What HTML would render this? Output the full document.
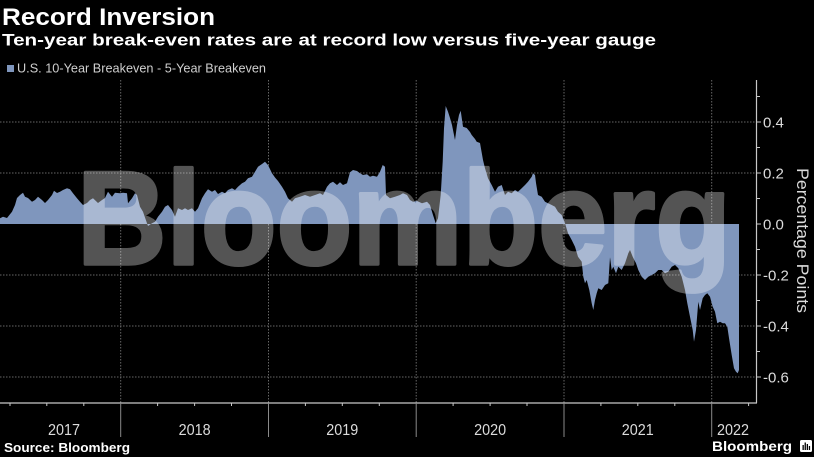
<!DOCTYPE html>
<html>
<head>
<meta charset="utf-8">
<style>
html,body{margin:0;padding:0;background:#000;}
svg{display:block;}
text{font-family:"Liberation Sans",sans-serif;}
</style>
</head>
<body>
<svg width="814" height="457" viewBox="0 0 814 457" xmlns="http://www.w3.org/2000/svg">
<rect x="0" y="0" width="814" height="457" fill="#000"/>

<!-- Titles -->
<text x="2" y="25" font-size="24" font-weight="bold" fill="#fff" textLength="213" lengthAdjust="spacingAndGlyphs">Record Inversion</text>
<text x="2" y="45.5" font-size="17" font-weight="bold" fill="#fff" textLength="654" lengthAdjust="spacingAndGlyphs">Ten-year break-even rates are at record low versus five-year gauge</text>

<!-- Legend -->
<rect x="7" y="65" width="7" height="7" fill="#7f96bd"/>
<text x="17" y="72.5" font-size="12.5" fill="#cfcfcf" textLength="249" lengthAdjust="spacingAndGlyphs">U.S. 10-Year Breakeven - 5-Year Breakeven</text>

<!-- Dotted gridlines -->
<g stroke="#666" stroke-width="1" stroke-dasharray="1.5,1.5">
  <line x1="0" y1="122" x2="756" y2="122"/>
  <line x1="0" y1="173" x2="756" y2="173"/>
  <line x1="0" y1="275" x2="756" y2="275"/>
  <line x1="0" y1="326" x2="756" y2="326"/>
  <line x1="0" y1="377" x2="756" y2="377"/>
  <line x1="120.7" y1="80" x2="120.7" y2="403"/>
  <line x1="268.5" y1="80" x2="268.5" y2="403"/>
  <line x1="416.2" y1="80" x2="416.2" y2="403"/>
  <line x1="564" y1="80" x2="564" y2="403"/>
  <line x1="711.7" y1="80" x2="711.7" y2="403"/>
</g>

<!-- Area series -->
<path fill="#7f96bd" d="M0,224 L0,218.3 3,216.7 7,218 12,211.7 15,205 17,198 20,195 23,192.7 25,196.7 28,198 32,201.7 35,200 38,196.7 42,200 45,203 48,200 52,195 54,190.7 57,193 60,191.7 63,190 67,188.3 70,189.3 73,193.3 77,198.3 80,201.7 83,205 87,203 90,200 93,198.3 98,203 102,200 105,198 108,191.7 112,196.7 115,192.7 120,193.3 123,192.7 127,193.3 128,203.3 132,198.3 135,193.3 137,195 140,206.7 143,211.7 147,223.3 148,226 152,223.3 155,221.7 158,216.7 162,211.7 165,206.7 168,205 172,210 175,216.7 178,208.3 182,210 185,208.3 188,210 192,208.3 195,211.7 198,208.3 202,198.3 205,193.3 208,189.3 212,191.7 215,190 218,194 222,191.7 225,193.3 228,190 232,188.3 235,190 238,186.7 242,183.3 245,181.7 248,178.3 252,176.7 255,171.7 258,166.7 262,164 265,161.7 268,165 272,173.3 275,177.5 278,181 282,186.7 285,191.7 288,198.3 292,201.7 295,198.3 300,196.7 305,195 310,196.7 315,195 320,193.3 323,195 327,186.7 330,183.3 333,181.7 337,185 340,182.3 343,185 347,183.3 350,172.3 353,170 357,171 360,173.3 363,175 367,174.3 370,176.7 373,175.7 377,176.7 380,171.7 382.7,165 385,166.7 386,195 390,198.3 395,196.7 400,195 403,193.3 407,195 410,200 413,201.7 417,201 422,203.3 427,201.7 430,205 433,215 435.7,223.3 438,218.3 440.7,195 442.7,161.7 444,128.3 445.7,106 448,111.7 450,118 452,125 455,140 457,125 459,115 460.7,110.7 463,126.7 466.7,128 470,132 471.7,135 475,139 476.7,141.7 480,143 483,160 485,168.3 488,178.3 491.7,185 495,191.7 498,186.7 501.7,185 505,195 508,191.7 511.7,193.3 515,190 518,191.7 521.7,188.3 525,185 528,181.7 531.7,176.7 533,173.3 535,175 536,183 538,195 541.7,196.7 545,201.7 548,203.3 551.7,205 555,206.7 558,211.7 561.7,215 565,223.3 568,233.3 571.7,240 575,246.7 578,256.7 581.7,261.7 583.3,276.7 585,283.3 586.7,280 589.3,290 591.7,303.3 593.3,310 595,300 596.7,293.3 598.3,288.3 601.7,290 605,285 608.3,283.3 610,257.3 611.7,270 613.3,266.7 616,273.3 618.3,266.7 621.7,270 625,263.3 628.3,253.3 630,250 632.7,256.7 636,263.3 638.3,270 641.7,276.7 645,280 648.3,276.7 651.7,275 655,273.3 658.3,270 661.7,270 665,273.3 668.3,271.7 671.7,266.7 675,265 678.3,268.3 681.7,276.7 685,290 687.3,303.3 690,316.7 692.7,330 694,341.7 696,330 698.3,301.7 700,310 702.7,298.3 705,295 707.3,293.3 710,296.7 712.7,306.7 715,311.7 717.3,323.3 720,321.7 722.7,323.3 725,323.3 727.3,326.7 729.3,340 731.7,355 734,368.3 736,371.7 737.7,373.3 739,370 739,224 Z"/>

<!-- Watermark -->
<g opacity="0.33">
<text x="77" y="264" font-size="133" font-weight="bold" fill="#fff" stroke="#fff" stroke-width="3.5" stroke-linejoin="round" textLength="654" lengthAdjust="spacingAndGlyphs">Bloomberg</text>
</g>

<!-- Axes -->
<line x1="0" y1="403" x2="757" y2="403" stroke="#c8c8c8" stroke-width="1.2"/>
<line x1="756.5" y1="80" x2="756.5" y2="403" stroke="#c8c8c8" stroke-width="1.2"/>

<!-- Year dividers below axis -->
<g stroke="#8a8a8a" stroke-width="1">
  <line x1="120.7" y1="403" x2="120.7" y2="437"/>
  <line x1="268.5" y1="403" x2="268.5" y2="437"/>
  <line x1="416.2" y1="403" x2="416.2" y2="437"/>
  <line x1="564" y1="403" x2="564" y2="437"/>
  <line x1="711.7" y1="403" x2="711.7" y2="437"/>
</g>

<!-- Quarterly ticks -->
<g stroke="#c8c8c8" stroke-width="1">
  <line x1="10" y1="403" x2="10" y2="406"/>
  <line x1="46.8" y1="403" x2="46.8" y2="406"/>
  <line x1="83.8" y1="403" x2="83.8" y2="406"/>
  <line x1="157.6" y1="403" x2="157.6" y2="406"/>
  <line x1="194.6" y1="403" x2="194.6" y2="406"/>
  <line x1="231.5" y1="403" x2="231.5" y2="406"/>
  <line x1="305.4" y1="403" x2="305.4" y2="406"/>
  <line x1="342.3" y1="403" x2="342.3" y2="406"/>
  <line x1="379.3" y1="403" x2="379.3" y2="406"/>
  <line x1="453.1" y1="403" x2="453.1" y2="406"/>
  <line x1="490.1" y1="403" x2="490.1" y2="406"/>
  <line x1="527" y1="403" x2="527" y2="406"/>
  <line x1="600.9" y1="403" x2="600.9" y2="406"/>
  <line x1="637.8" y1="403" x2="637.8" y2="406"/>
  <line x1="674.8" y1="403" x2="674.8" y2="406"/>
  <line x1="748.6" y1="403" x2="748.6" y2="406"/>
</g>

<!-- Right axis ticks -->
<g stroke="#c8c8c8" stroke-width="1">
  <line x1="756.5" y1="96.5" x2="760" y2="96.5"/>
  <line x1="756.5" y1="122" x2="761" y2="122"/>
  <line x1="756.5" y1="147.5" x2="760" y2="147.5"/>
  <line x1="756.5" y1="173" x2="761" y2="173"/>
  <line x1="756.5" y1="198.5" x2="760" y2="198.5"/>
  <line x1="756.5" y1="224" x2="761" y2="224"/>
  <line x1="756.5" y1="249.5" x2="760" y2="249.5"/>
  <line x1="756.5" y1="275" x2="761" y2="275"/>
  <line x1="756.5" y1="300.5" x2="760" y2="300.5"/>
  <line x1="756.5" y1="326" x2="761" y2="326"/>
  <line x1="756.5" y1="351.5" x2="760" y2="351.5"/>
  <line x1="756.5" y1="377" x2="761" y2="377"/>
</g>

<!-- Right axis labels -->
<g font-size="15" fill="#dcdcdc">
  <text x="763" y="127.5">0.4</text>
  <text x="763" y="178.5">0.2</text>
  <text x="763" y="229.5">0.0</text>
  <text x="763" y="280.5">-0.2</text>
  <text x="763" y="331.5">-0.4</text>
  <text x="763" y="382.5">-0.6</text>
</g>

<!-- Axis title -->
<text transform="translate(797,240.5) rotate(90)" x="0" y="0" font-size="17" fill="#dcdcdc" text-anchor="middle" textLength="145" lengthAdjust="spacingAndGlyphs">Percentage Points</text>

<!-- Year labels -->
<g font-size="16" fill="#dcdcdc" text-anchor="middle">
  <text x="64" y="435" textLength="32" lengthAdjust="spacingAndGlyphs">2017</text>
  <text x="194.6" y="435" textLength="32" lengthAdjust="spacingAndGlyphs">2018</text>
  <text x="342.3" y="435" textLength="32" lengthAdjust="spacingAndGlyphs">2019</text>
  <text x="490.1" y="435" textLength="32" lengthAdjust="spacingAndGlyphs">2020</text>
  <text x="637.8" y="435" textLength="32" lengthAdjust="spacingAndGlyphs">2021</text>
  <text x="733" y="435" textLength="32" lengthAdjust="spacingAndGlyphs">2022</text>
</g>

<!-- Footer -->
<text x="4" y="452" font-size="13" font-weight="bold" fill="#fff" textLength="126" lengthAdjust="spacingAndGlyphs">Source: Bloomberg</text>
<text x="712" y="451" font-size="14" font-weight="bold" fill="#fff" textLength="80" lengthAdjust="spacingAndGlyphs">Bloomberg</text>
<rect x="800" y="440" width="12" height="12" rx="1.5" fill="#fff"/>
<g fill="#000">
  <rect x="802.5" y="445" width="1.3" height="5"/>
  <rect x="804.6" y="442.5" width="1.3" height="7.5"/>
  <rect x="806.7" y="444" width="1.3" height="6"/>
  <rect x="808.8" y="446" width="1.3" height="4"/>
</g>
</svg>
</body>
</html>
